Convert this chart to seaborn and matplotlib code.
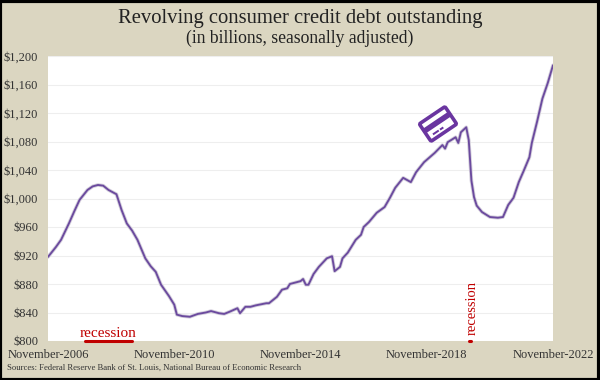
import pandas as pd
import matplotlib
matplotlib.use('Agg')
from matplotlib import pyplot as plt
from matplotlib import patheffects as pe
from matplotlib.patches import FancyBboxPatch, Rectangle
from matplotlib.transforms import Affine2D
import seaborn as sns

# values
dates = ['2006-11', '2007-02', '2007-04', '2007-07', '2007-09', '2007-11', '2008-02', '2008-04', '2008-06',
         '2008-08', '2008-10', '2008-12', '2009-01', '2009-03', '2009-05', '2009-07', '2009-09', '2009-12',
         '2010-02', '2010-04', '2010-06', '2010-09', '2010-11', '2010-12', '2011-02', '2011-05', '2011-08',
         '2011-11', '2012-01', '2012-04', '2012-06', '2012-08', '2012-11', '2012-12', '2013-02', '2013-04',
         '2013-06', '2013-10', '2013-11', '2014-02', '2014-04', '2014-06', '2014-07', '2014-11', '2014-12',
         '2015-01', '2015-02', '2015-04', '2015-06', '2015-09', '2015-11', '2015-12', '2016-02', '2016-03',
         '2016-05', '2016-08', '2016-10', '2016-11', '2017-01', '2017-04', '2017-07', '2017-09', '2017-11',
         '2018-02', '2018-05', '2018-07', '2018-10', '2019-02', '2019-05', '2019-06', '2019-07', '2019-10',
         '2019-11', '2019-12', '2020-02', '2020-03', '2020-04', '2020-05', '2020-06', '2020-08', '2020-11',
         '2021-02', '2021-04', '2021-06', '2021-08', '2021-10', '2021-12', '2022-02', '2022-03', '2022-05',
         '2022-07', '2022-09', '2022-11']
debt = [918, 932, 942, 965, 982, 998, 1012, 1017, 1019,
        1018, 1012, 1008, 1006, 984, 965, 955, 942, 916,
        905, 897, 879, 863, 851, 837, 835, 834, 838,
        840, 842, 839, 838, 841, 846, 839, 848, 848,
        850, 853, 853, 862, 872, 874, 880, 884, 887,
        879, 879, 894, 904, 916, 919, 898, 904, 916,
        924, 942, 949, 960, 967, 980, 988, 1001, 1015,
        1029, 1023, 1037, 1051, 1064, 1075, 1070, 1079, 1086,
        1078, 1093, 1100, 1082, 1025, 1002, 990, 981, 974,
        973, 974, 991, 1001, 1023, 1040, 1058, 1078, 1108,
        1140, 1162, 1187]
y_ticks = [800, 840, 880, 920, 960, 1000, 1040, 1080, 1120, 1160, 1200]
x_ticks = ['2006-11', '2010-11', '2014-11', '2018-11', '2022-11']
x_labels = ['November-2006', 'November-2010', 'November-2014', 'November-2018', 'November-2022']
recession_1 = ['2008-01', '2009-07']
recession_2 = ['2020-03', '2020-04']

BG = '#dbd6c1'
PURPLE = '#6b4a9e'
ICON = '#6a35a0'
RED = '#c00000'
W, H = 600, 380

sns.set_style('white')
plt.rcParams['font.family'] = ['Liberation Serif', 'DejaVu Serif']

df = pd.DataFrame({'date': pd.to_datetime(dates), 'debt': debt})

fig = plt.figure(figsize=(6, 3.8), dpi=100, facecolor=BG)
ax = fig.add_axes([48 / W, 1 - 341 / H, 505 / W, 285 / H])

line = sns.lineplot(x='date', y='debt', data=df, color=PURPLE, linewidth=1.35, estimator=None, ax=ax)
line.lines[0].set_path_effects([pe.Stroke(linewidth=2.6, foreground='#d4cfdc'), pe.Normal()])

ax.set_xlim(pd.Timestamp('2006-11'), pd.Timestamp('2022-11'))
ax.set_ylim(800, 1200)
ax.set_yticks(y_ticks)
ax.set_yticklabels([f'${v:,}' for v in y_ticks], fontsize=9, color='#333333')
ax.set_xticks(pd.to_datetime(x_ticks))
ax.set_xticklabels(x_labels, fontsize=9, color='#333333')
ax.tick_params(axis='y', length=0, pad=7)
ax.tick_params(axis='x', length=0, pad=6)
ax.set_xlabel('')
ax.set_ylabel('')
ax.grid(axis='y', color='#eeeeee', linewidth=0.8)
ax.set_axisbelow(True)
sns.despine(ax=ax, left=True, bottom=True, top=True, right=True)

# recession markers
ax.plot(pd.to_datetime(recession_1), [800, 800], color=RED, linewidth=2.2, clip_on=False,
        solid_capstyle='round')
ax.plot(pd.to_datetime(recession_2), [800, 800], color=RED, linewidth=2.2, clip_on=False,
        solid_capstyle='round')
ax.text(pd.Timestamp('2008-10'), 802, 'recession', color=RED, fontsize=11, ha='center', va='bottom')
ax.text(pd.Timestamp('2020-04-15'), 808, 'recession', color=RED, fontsize=10.5, rotation=90,
        ha='center', va='bottom')

# titles and source
fig.text(300 / W, 1 - 19 / H, 'Revolving consumer credit debt outstanding', fontsize=14.9,
         color='#222222', ha='center', va='center')
fig.text(300 / W, 1 - 38 / H, '(in billions, seasonally adjusted)', fontsize=12.7,
         color='#222222', ha='center', va='center')
fig.text(7 / W, 1 - 368 / H, 'Sources: Federal Reserve Bank of St. Louis, National Bureau of Economic Research',
         fontsize=6.2, color='#333333', ha='left', va='center')

# credit card icon, in pixels
card = Affine2D().rotate_deg(34).translate(438, H - 124)
fig.add_artist(FancyBboxPatch((-15.5, -10.5), 31, 21, boxstyle='round,pad=0,rounding_size=1.5',
                              fc='white', ec=ICON, lw=2.6, transform=card))
fig.add_artist(Rectangle((-15.5, -1), 31, 5.5, fc=ICON, ec='none', transform=card))
fig.add_artist(Rectangle((-10, -6.8), 7, 2, fc=ICON, ec='none', transform=card))
fig.add_artist(Rectangle((-1.5, -6.8), 4, 2, fc=ICON, ec='none', transform=card))

# black frame on the picture edge
fig.add_artist(Rectangle((0, 0), W - 1, H - 1, fc='none', ec='black', lw=3, transform=Affine2D()))

fig.savefig('out.png', dpi=100, facecolor=BG)
